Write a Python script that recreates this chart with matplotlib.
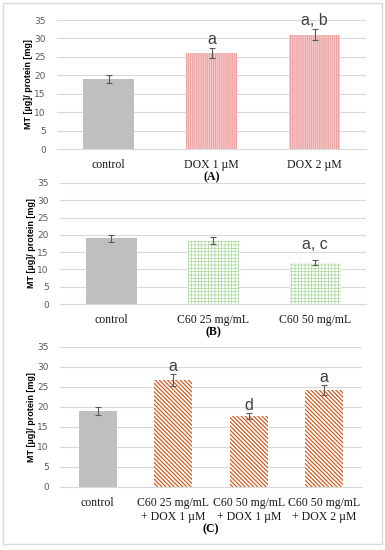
import matplotlib
matplotlib.use('Agg')
import matplotlib.pyplot as plt
from matplotlib.patches import Rectangle

# Panel A: DOX
cats_a = ['control', 'DOX 1 \u00b5M', 'DOX 2 \u00b5M']
vals_a = [19.0, 26.0, 31.0]
errs_a = [1.0, 1.3, 1.5]
sig_a = ['', 'a', 'a, b']

# Panel B: C60
cats_b = ['control', 'C60 25 mg/mL', 'C60 50 mg/mL']
vals_b = [19.0, 18.3, 11.9]
errs_b = [1.0, 1.0, 0.7]
sig_b = ['', '', 'a, c']

# Panel C: C60 + DOX
cats_c = ['control', 'C60 25 mg/mL\n+ DOX 1 \u00b5M', 'C60 50 mg/mL\n+ DOX 1 \u00b5M', 'C60 50 mg/mL\n+ DOX 2 \u00b5M']
vals_c = [19.0, 26.8, 17.7, 24.3]
errs_c = [1.0, 1.5, 0.8, 1.2]
sig_c = ['', 'a', 'd', 'a']

W, H = 385, 550
fig = plt.figure(figsize=(W / 100, H / 100), dpi=100)
fig.patches.append(Rectangle((3 / W, 6 / H), 379 / W, 541 / H, transform=fig.transFigure,
                             fill=False, edgecolor='#d9d9d9', lw=1))

GRAY = '#595959'
LINE = '#d9d9d9'


def panel(rect, cats, vals, errs, sig, tag, face, hatch, hcolor, hlw, sig_off):
    l, t, r, b = rect
    ax = fig.add_axes([l / W, 1 - b / H, (r - l) / W, (b - t) / H])
    ax.patch.set_visible(False)
    x = list(range(len(cats)))
    faces = ['#bfbfbf'] + [face] * (len(cats) - 1)
    bars = ax.bar(x, vals, width=0.5, color=faces, edgecolor='none', zorder=2)
    for i, p in enumerate(bars):
        if i == 0:
            continue
        p.set_hatch(hatch)
        p.set_edgecolor(hcolor)
        p.set_linewidth(0)
        if hasattr(p, 'set_hatch_linewidth'):
            p.set_hatch_linewidth(hlw)
    ax.errorbar(x, vals, yerr=errs, fmt='none', ecolor=GRAY, elinewidth=0.8,
                capsize=2, capthick=0.8, zorder=3)
    for i, s in enumerate(sig):
        if s:
            ax.annotate(s, (x[i], vals[i] + errs[i]), xytext=(0, sig_off), textcoords='offset points',
                        ha='center', va='bottom', fontsize=11.5, color='#404040',
                        family='Liberation Sans')
    ax.set_ylim(0, 35)
    ax.set_yticks(range(0, 36, 5))
    ax.set_xlim(-0.5, len(cats) - 0.5)
    ax.set_xticks(x)
    ax.set_xticklabels(cats, family='Liberation Serif', fontsize=8.5, color='#1a1a1a', linespacing=1.25)
    ax.tick_params(axis='y', length=0, labelsize=6.5, labelcolor=GRAY, pad=8)
    ax.tick_params(axis='x', length=0, pad=7)
    ax.grid(axis='y', color=LINE, lw=0.8, zorder=0)
    ax.set_axisbelow(True)
    for s in ['top', 'right', 'left']:
        ax.spines[s].set_visible(False)
    ax.spines['bottom'].set_color(LINE)
    ax.spines['bottom'].set_linewidth(0.8)
    ax.set_ylabel('MT [\u00b5g]/ protein [mg]', fontsize=6.5, fontweight='bold',
                  family='Liberation Sans', labelpad=1)
    ax.set_xlabel(tag, family='Liberation Serif', fontweight='bold', fontsize=8.5, labelpad=0.5)
    return ax


panel((57, 20, 366, 149), cats_a, vals_a, errs_a, sig_a, '(A)',
      '#f7c9c9', '||||||||', '#e89b9b', 0.6, 1)
panel((60, 183, 366, 304), cats_b, vals_b, errs_b, sig_b, '(B)',
      'white', '+++++', '#a8d89a', 0.5, 6)
panel((60, 347, 362, 487), cats_c, vals_c, errs_c, sig_c, '(C)',
      'white', '\\' * 8, '#d0561a', 0.85, 0)

fig.savefig('out.png', dpi=100)
